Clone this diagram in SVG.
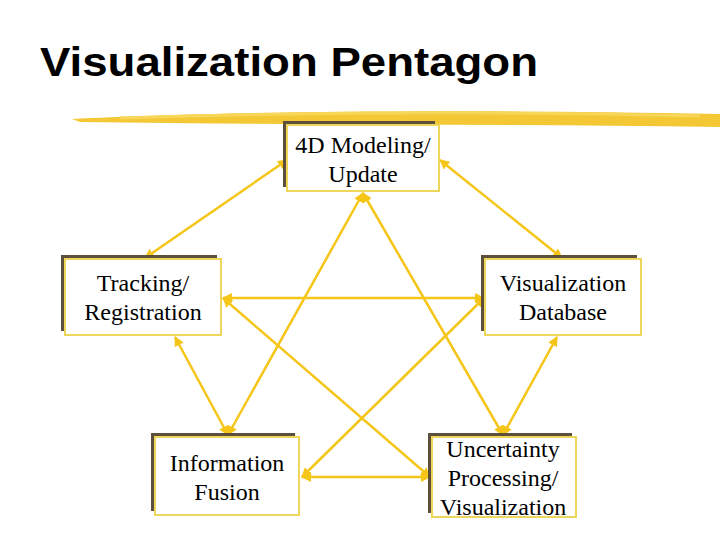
<svg xmlns="http://www.w3.org/2000/svg" width="720" height="540" viewBox="0 0 720 540">
<style>
.sh{fill:#5c4f3c}
.bx{fill:#fff;stroke:#eed65a;stroke-width:2}
.t{font-family:"Liberation Serif",serif;font-size:24px;fill:#000;text-anchor:middle}
.c{stroke:#f5c518;stroke-width:2.5;fill:none;marker-start:url(#a);marker-end:url(#a)}
</style>
<defs>
<marker id="a" viewBox="0 0 10 10" refX="9" refY="5" markerWidth="4" markerHeight="4" orient="auto-start-reverse"><path d="M0,0L10,5L0,10z" fill="#f5c518"/></marker>
</defs>
<rect width="720" height="540" fill="#fff"/>
<text x="40" y="76" font-family="'Liberation Sans',sans-serif" font-weight="bold" font-size="40" textLength="498" lengthAdjust="spacingAndGlyphs" fill="#000">Visualization Pentagon</text>
<path d="M72,119 C200,113 400,108 720,114 L720,127 C500,124 300,125 80,122 Z" fill="#f2c21e" opacity="0.9"/>
<path d="M120,118 C300,112 500,111 700,116" stroke="#f7d65a" stroke-width="3" fill="none"/>
<g id="connectors">
<line class="c" x1="287" y1="160" x2="145" y2="258"/>
<line class="c" x1="440" y1="160" x2="562" y2="258"/>
<line class="c" x1="363" y1="193" x2="228" y2="435"/>
<line class="c" x1="363" y1="193" x2="503" y2="435"/>
<line class="c" x1="223" y1="298" x2="484" y2="298"/>
<line class="c" x1="223" y1="298" x2="430" y2="477"/>
<line class="c" x1="484" y1="298" x2="302" y2="477"/>
<line class="c" x1="302" y1="477" x2="430" y2="477"/>
<line class="c" x1="175" y1="337" x2="228" y2="435"/>
<line class="c" x1="557" y1="337" x2="503" y2="435"/>
</g>
<g id="n4d"><rect class="sh" x="283" y="121" width="152" height="66"/><rect class="bx" x="287" y="125" width="152" height="66"/><text class="t" x="363" y="153">4D Modeling/</text><text class="t" x="363" y="182">Update</text></g>
<g id="ntrack"><rect class="sh" x="61" y="255" width="156" height="76"/><rect class="bx" x="65" y="259" width="156" height="76"/><text class="t" x="143" y="291">Tracking/</text><text class="t" x="143" y="320">Registration</text></g>
<g id="nvisdb"><rect class="sh" x="481" y="255" width="156" height="76"/><rect class="bx" x="485" y="259" width="156" height="76"/><text class="t" x="563" y="291">Visualization</text><text class="t" x="563" y="320">Database</text></g>
<g id="nfusion"><rect class="sh" x="151" y="433" width="144" height="78"/><rect class="bx" x="155" y="437" width="144" height="78"/><text class="t" x="227" y="471">Information</text><text class="t" x="227" y="500">Fusion</text></g>
<g id="nunc"><rect class="sh" x="428" y="433" width="144" height="80"/><rect class="bx" x="432" y="437" width="144" height="80"/><text class="t" x="503" y="457">Uncertainty</text><text class="t" x="503" y="486">Processing/</text><text class="t" x="503" y="515">Visualization</text></g>
</svg>
